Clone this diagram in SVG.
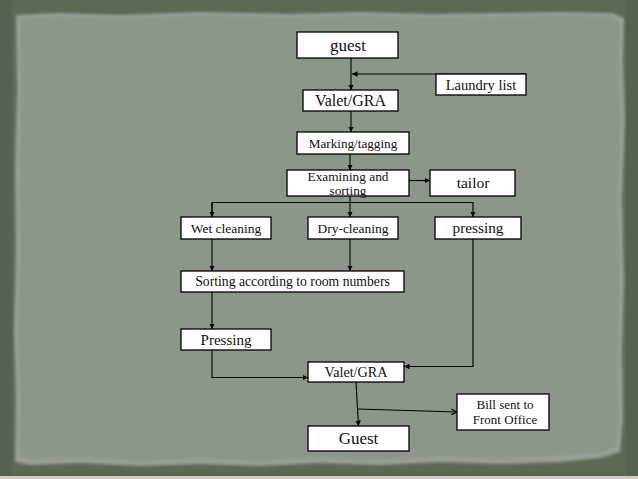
<svg xmlns="http://www.w3.org/2000/svg" width="638" height="479" viewBox="0 0 638 479">
<defs>
<style>
.box{fill:#ffffff;stroke:#000000;stroke-width:1.3}
.ln{fill:none;stroke:#000000;stroke-width:1.1}
.t{font-family:"Liberation Serif","Times New Roman",serif;fill:#111111;text-anchor:middle}
</style>
<marker id="ah" viewBox="0 0 10 10" refX="10" refY="5" markerWidth="5.5" markerHeight="5.5" orient="auto" markerUnits="userSpaceOnUse">
<path d="M0,0 L10,5 L0,10 z" fill="#000"/>
</marker>
<marker id="av" viewBox="0 0 10 10" refX="9" refY="5" markerWidth="7" markerHeight="7" orient="auto" markerUnits="userSpaceOnUse">
<path d="M1,1 L9,5 L1,9" fill="none" stroke="#000" stroke-width="1.6"/>
</marker>
<filter id="blur" x="-5%" y="-5%" width="110%" height="110%"><feGaussianBlur stdDeviation="1.5"/></filter>
</defs>
<rect x="0" y="0" width="638" height="479" fill="#5c6754"/>
<rect x="0" y="0" width="12" height="479" fill="#56624f"/>
<rect x="626" y="0" width="12" height="479" fill="#56624f"/>
<path filter="url(#blur)" fill="#9aa195" d="M16,15 L60,13 L120,15 L200,12 L290,14 L360,12 L430,14 L500,13 L560,12 L612,13 L624,18 L623,60 L625,120 L622,200 L624,280 L622,350 L623,420 L620,452 L600,458 L560,462 L500,464 L440,462 L380,465 L320,463 L260,466 L200,464 L140,466 L80,463 L30,465 L15,462 L16,400 L14,330 L16,250 L15,170 L17,90 Z"/>
<path filter="url(#blur)" fill="#8d968a" d="M20,18 L60,16 L120,18 L200,15 L290,17 L360,15 L430,17 L500,16 L560,15 L610,16 L620,22 L619,60 L621,120 L618,200 L620,280 L618,350 L619,420 L616,448 L600,453 L560,456 L500,459 L440,457 L380,460 L320,458 L260,461 L200,459 L140,461 L80,458 L30,460 L19,456 L20,400 L18,330 L20,250 L19,170 L21,90 Z"/>
<rect x="0" y="476" width="638" height="3" fill="#c9cdc4"/>

<g id="connectors">
<path class="ln" d="M351,58 V90" marker-end="url(#ah)"/>
<path class="ln" d="M526,74 H352" marker-end="url(#ah)"/>
<path class="ln" d="M351,111 V132" marker-end="url(#ah)"/>
<path class="ln" d="M350,154 V170" marker-end="url(#ah)"/>
<path class="ln" d="M409,180.5 H430" marker-end="url(#ah)"/>
<path class="ln" d="M350,196 V217" marker-end="url(#ah)"/>
<path class="ln" d="M212,217 V202.5 H473 V217" marker-end="url(#ah)"/>
<path class="ln" d="M212,202.5 V217" marker-end="url(#ah)"/>
<path class="ln" d="M212,239 V271" marker-end="url(#ah)"/>
<path class="ln" d="M350,239 V271" marker-end="url(#ah)"/>
<path class="ln" d="M212,292 V329" marker-end="url(#ah)"/>
<path class="ln" d="M212,350 V377.5 H308" marker-end="url(#ah)"/>
<path class="ln" d="M473,239 V366.5 H404" marker-end="url(#ah)"/>
<path class="ln" d="M356,382 L358.5,426" marker-end="url(#ah)"/>
<path class="ln" d="M357,409 L457,412" marker-end="url(#av)"/>
</g>

<g id="n-guest"><rect class="box" x="297" y="32" width="101" height="26"/><text class="t" x="348" y="51" font-size="17">guest</text></g>
<g id="n-laundry"><rect class="box" x="436" y="74" width="90" height="21"/><text class="t" x="481" y="90" font-size="14.5">Laundry list</text></g>
<g id="n-valet1"><rect class="box" x="303" y="90" width="95" height="21"/><text class="t" x="350.5" y="106" font-size="16">Valet/GRA</text></g>
<g id="n-marking"><rect class="box" x="297" y="132" width="112" height="22"/><text class="t" x="353" y="148" font-size="13.2">Marking/tagging</text></g>
<g id="n-examining"><rect class="box" x="287" y="170" width="122" height="26"/><text class="t" x="348" y="180.5" font-size="13.3">Examining and</text><text class="t" x="348" y="194.5" font-size="13.3">sorting</text></g>
<g id="n-tailor"><rect class="box" x="430" y="170" width="85" height="26"/><text class="t" x="473" y="187.5" font-size="15.5">tailor</text></g>
<g id="n-wet"><rect class="box" x="181" y="217" width="90" height="22"/><text class="t" x="226" y="233" font-size="13.5">Wet cleaning</text></g>
<g id="n-dry"><rect class="box" x="308" y="217" width="90" height="22"/><text class="t" x="353" y="233" font-size="13.5">Dry-cleaning</text></g>
<g id="n-pressing1"><rect class="box" x="435" y="217" width="86" height="22"/><text class="t" x="478" y="233" font-size="15.3">pressing</text></g>
<g id="n-sorting"><rect class="box" x="181" y="271" width="223" height="21"/><text class="t" x="292.5" y="286" font-size="13.7">Sorting according to room numbers</text></g>
<g id="n-pressing2"><rect class="box" x="181" y="329" width="90" height="21"/><text class="t" x="226" y="345" font-size="15">Pressing</text></g>
<g id="n-valet2"><rect class="box" x="308" y="362" width="96" height="20"/><text class="t" x="356" y="377" font-size="14.2">Valet/GRA</text></g>
<g id="n-bill"><rect class="box" x="457" y="394" width="92" height="36"/><text class="t" x="505" y="409" font-size="13">Bill sent to</text><text class="t" x="505" y="423.5" font-size="13">Front Office</text></g>
<g id="n-guest2"><rect class="box" x="308" y="426" width="101" height="25"/><text class="t" x="358.5" y="444" font-size="17">Guest</text></g>
</svg>
